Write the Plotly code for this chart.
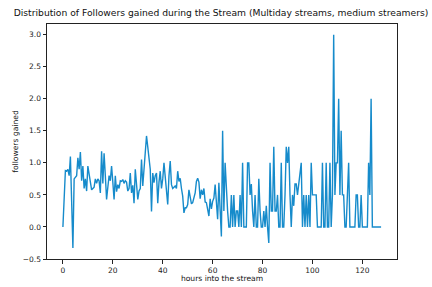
import plotly.graph_objects as go

# hours into the stream (half-hour steps)
hours = [i * 0.5 for i in range(256)]

followers = [
    # 0 - 9.5
    0, 0.45, 0.88, 0.87, 0.9, 0.8, 1.1, 0.4, -0.33, 0.75,
    0.77, 0.8, 1.08, 0.9, 1.17, 0.72, 0.95, 0.6, 0.75, 0.56,
    # 10 - 19.5
    0.95, 0.8, 0.7, 0.58, 0.6, 0.62, 0.75, 0.68, 0.75, 0.72,
    0.53, 1.18, 0.68, 1.15, 0.8, 0.43, 0.62, 0.8, 0.72, 0.95,
    # 20 - 29.5
    0.7, 0.43, 0.8, 0.55, 0.66, 0.6, 0.72, 0.71, 0.74, 0.68,
    0.72, 0.7, 0.56, 0.6, 0.84, 0.53, 0.65, 0.37, 0.9, 0.6,
    # 30 - 39.5
    0.43, 0.56, 0.6, 1.05, 0.64, 0.9, 1.2, 1.42, 1.25, 1.1,
    0.9, 0.24, 0.84, 0.69, 0.8, 0.84, 0.37, 0.7, 0.87, 0.6,
    # 40 - 49.5
    0.75, 1.0, 0.8, 0.6, 0.35, 0.8, 1.03, 0.66, 0.6, 0.62,
    0.64, 0.6, 0.87, 0.71, 0.76, 0.6, 0.48, 0.22, 0.3, 0.3,
    # 50 - 59.5
    0.35, 0.58, 0.44, 0.36, 0.38, 0.45, 0.53, 0.71, 0.76, 0.7,
    0.44, 0.58, 0.5, 0.6, 0.39, 0.38, 0.25, 0.17, 0.44, 0.28,
    # 60 - 69.5
    0.4, 0.45, 0.66, 0.4, 0.12, 0.69, 0.3, -0.15, 1.5, 0.25,
    1.0, 0.5, 0.25, 0, 0, 0.5, 0, 0.5, 0, 0.25,
    # 70 - 79.5
    0.25, 0, 0.5, 0, 1.0, 0, 0, 0, 1.0, 1.0,
    0.5, 0.67, 0.25, 0, 0.5, 0, 0, 0.75, 0.25, 0,
    # 80 - 89.5
    0, 0.25, 0, 0.33, 0, -0.25, 1.0, 0.25, 0.25, 1.25,
    0.25, 0.25, 0.5, 0, 0, 1.0, 0, 0, 0.5, 1.25,
    # 90 - 99.5
    1.0, 1.25, 0.5, 0, 0.5, 0.33, 0.67, 0.67, 0.5, 0.67,
    0.75, 1.0, 0, 0.5, 0, 0.5, 0, 0.5, 0, 1.0,
    # 100 - 109.5
    0.5, 0.5, 0.5, 0.5, 0, 0, 0, 0, 1.0, 0,
    0, 1.0, 0, 0, 1.0, 0, 0.5, 3.0, 0.5, 1.0,
    # 110 - 119.5
    1.0, 2.0, 0.5, 1.5, 0.5, 0.5, 0, 0, 0.5, 1.0,
    0, 0, 0, 0, 0, 0.5, 0.5, 0, 0, 0.5,
    # 120 - 127.5
    0, 0, 0, 0, 0, 1.0, 0.5, 2.0, 0, 0,
    0, 0, 0, 0, 0, 0,
]

x_ticks = [0, 20, 40, 60, 80, 100, 120]
y_ticks = [-0.5, 0.0, 0.5, 1.0, 1.5, 2.0, 2.5, 3.0]
y_labels = ["−0.5", "0.0", "0.5", "1.0", "1.5", "2.0", "2.5", "3.0"]

fig = go.Figure(
    go.Scatter(
        x=hours, y=followers, mode="lines",
        line=dict(color="#168bcb", width=1.4),
        hoverinfo="skip",
    )
)

font = "DejaVu Sans, Arial, sans-serif"
axis_common = dict(
    showgrid=False, zeroline=False, showline=True, mirror=True,
    linecolor="#222222", linewidth=1, automargin=False,
    ticks="outside", ticklen=3.5, tickwidth=1, tickcolor="#222222",
    tickfont=dict(family=font, size=7.5, color="#222222"),
)

fig.update_layout(
    width=432, height=287,
    margin=dict(l=47, r=35, t=24, b=28),
    paper_bgcolor="white", plot_bgcolor="white",
    showlegend=False,
    title=dict(
        text="Distribution of Followers gained during the Stream (Multiday streams, medium streamers)",
        font=dict(family=font, size=9.2, color="#111111"),
        x=221 / 432, xref="container", xanchor="center",
        y=1 - 13 / 287, yref="container", yanchor="middle",
    ),
    xaxis=dict(
        range=[-6.375, 133.875], tickvals=x_ticks,
        title=dict(text="hours into the stream", font=dict(family=font, size=7.6, color="#111111"), standoff=0),
        **axis_common,
    ),
    yaxis=dict(
        range=[-0.5, 3.1665], tickvals=y_ticks, ticktext=y_labels,
        title=dict(text="followers gained", font=dict(family=font, size=7.6, color="#111111"), standoff=3),
        **axis_common,
    ),
)

fig.write_html(
    "out.html",
    config={"displayModeBar": False, "staticPlot": True},
    post_script="document.body.style.margin='0';document.body.style.overflow='hidden';",
)
